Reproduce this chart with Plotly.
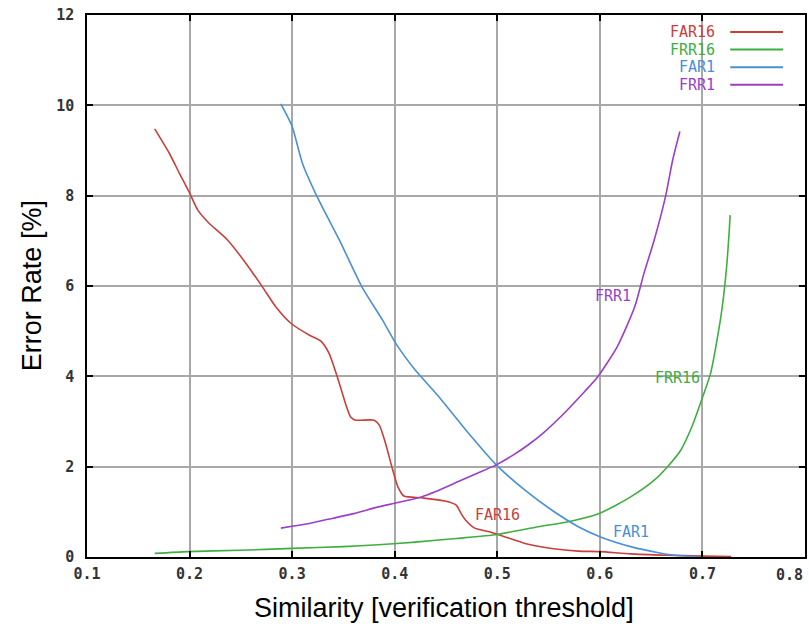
import plotly.graph_objects as go

# ---- data ----
far16_x = [0.166, 0.18, 0.19, 0.20, 0.208, 0.219, 0.237, 0.255, 0.271, 0.284, 0.299, 0.317,
           0.328, 0.336, 0.344, 0.352, 0.357, 0.362, 0.380, 0.385, 0.391, 0.398, 0.403, 0.409,
           0.426, 0.449, 0.460, 0.465, 0.469, 0.478, 0.494, 0.507, 0.527, 0.553, 0.579, 0.600,
           0.630, 0.666, 0.700, 0.728]
far16_y = [9.48, 8.95, 8.5, 8.06, 7.68, 7.39, 7.02, 6.50, 5.98, 5.54, 5.17, 4.91,
           4.78, 4.51, 3.99, 3.40, 3.10, 3.03, 3.03, 2.92, 2.52, 1.93, 1.56, 1.35,
           1.31, 1.24, 1.15, 0.95, 0.82, 0.64, 0.55, 0.45, 0.30, 0.19, 0.13, 0.12,
           0.07, 0.04, 0.02, 0.01]

frr16_x = [0.166, 0.198, 0.249, 0.300, 0.35, 0.384, 0.42, 0.46, 0.50, 0.540, 0.569, 0.600,
           0.630, 0.653, 0.666, 0.679, 0.690, 0.698, 0.708, 0.718, 0.723, 0.726, 0.727]
frr16_y = [0.08, 0.12, 0.15, 0.19, 0.23, 0.27, 0.33, 0.41, 0.50, 0.67, 0.78, 0.97,
           1.33, 1.70, 2.00, 2.37, 2.90, 3.40, 4.07, 5.32, 6.28, 7.17, 7.57]

far1_x = [0.289, 0.300, 0.310, 0.326, 0.346, 0.368, 0.388, 0.401, 0.420, 0.443, 0.472, 0.499,
          0.527, 0.553, 0.579, 0.600, 0.630, 0.656, 0.673, 0.695]
far1_y = [10.03, 9.53, 8.72, 7.90, 7.02, 5.98, 5.25, 4.73, 4.14, 3.55, 2.74, 2.04,
          1.48, 1.04, 0.67, 0.45, 0.23, 0.10, 0.04, 0.01]

frr1_x = [0.289, 0.30, 0.32, 0.34, 0.36, 0.384, 0.40, 0.426, 0.44, 0.462, 0.48, 0.499,
          0.515, 0.530, 0.545, 0.562, 0.585, 0.598, 0.617, 0.634, 0.643, 0.653, 0.664, 0.671, 0.678]
frr1_y = [0.64, 0.68, 0.76, 0.86, 0.96, 1.11, 1.19, 1.33, 1.45, 1.67, 1.85, 2.04,
          2.25, 2.48, 2.75, 3.11, 3.66, 3.99, 4.66, 5.54, 6.28, 7.02, 7.98, 8.79, 9.42]

series_names = ["FAR16", "FRR16", "FAR1", "FRR1"]
series_colors = ["#c8403c", "#3fae3f", "#4a90d6", "#9a3fc8"]

# in-plot label positions (data coords)
label_x = [0.500, 0.676, 0.630, 0.613]
label_y = [0.93, 3.96, 0.55, 5.78]

x_ticks = [0.1, 0.2, 0.3, 0.4, 0.5, 0.6, 0.7, 0.8]
y_ticks = [0, 2, 4, 6, 8, 10, 12]

xs = [far16_x, frr16_x, far1_x, frr1_x]
ys = [far16_y, frr16_y, far1_y, frr1_y]

mono = "DejaVu Sans Mono"
tick_font = dict(family=mono, size=15, color="#333", weight="bold")

fig = go.Figure()
for name, col, x, y in zip(series_names, series_colors, xs, ys):
    fig.add_trace(go.Scatter(x=x, y=y, mode="lines", name=name, line_shape="spline",
                             line=dict(color=col, width=1.6, smoothing=0.6), showlegend=False))

annotations = []
for name, col, lx, ly in zip(series_names, series_colors, label_x, label_y):
    annotations.append(dict(x=lx, y=ly, xref="x", yref="y", text=name, showarrow=False,
                            font=dict(family=mono, size=15, color=col)))

# custom legend (text left, line right)
shapes = []
for i, (name, col) in enumerate(zip(series_names, series_colors)):
    ypix = 32 + i * 17.6
    yp = 1 - (ypix - 15) / 542.0
    annotations.append(dict(x=(719 - 87) / 720.0, y=yp, xref="paper", yref="paper", text=name,
                            showarrow=False, xanchor="right", yanchor="middle",
                            font=dict(family=mono, size=15, color=col)))
    shapes.append(dict(type="line", xref="paper", yref="paper",
                       x0=(732 - 87) / 720.0, x1=(785 - 87) / 720.0, y0=yp, y1=yp,
                       line=dict(color=col, width=2)))

# axis titles
annotations.append(dict(x=(445 - 87) / 720.0, y=-(608 - 557) / 542.0, xref="paper", yref="paper",
                        text="Similarity [verification threshold]", showarrow=False,
                        xanchor="center", yanchor="middle",
                        font=dict(family="Liberation Sans", size=27, color="#000")))
annotations.append(dict(x=-(87 - 32) / 720.0, y=(557 - 286) / 542.0, xref="paper", yref="paper",
                        text="Error Rate [%]", showarrow=False, textangle=-90,
                        xanchor="center", yanchor="middle",
                        font=dict(family="Liberation Sans", size=27, color="#000")))
# last x tick label shifted inside the canvas
annotations.append(dict(x=1.0, y=-(575 - 557) / 542.0, xref="paper", yref="paper",
                        text="0.8", showarrow=False, xanchor="right", yanchor="middle",
                        font=tick_font))

fig.update_layout(
    width=809, height=627,
    margin=dict(l=87, r=2, t=15, b=70),
    paper_bgcolor="white", plot_bgcolor="white",
    annotations=annotations, shapes=shapes,
    xaxis=dict(range=[0.1, 0.8], tickvals=x_ticks,
               ticktext=[f"{v:.1f}" for v in x_ticks[:-1]] + [""],
               showgrid=True, gridcolor="#a8a8a8", gridwidth=1.5,
               showline=True, linecolor="black", linewidth=1.5, mirror="ticks",
               ticks="inside", ticklen=6, tickcolor="black", tickwidth=1.5,
               tickfont=tick_font, zeroline=False, ticklabelstandoff=2),
    yaxis=dict(range=[0, 12], tickvals=y_ticks,
               showgrid=True, gridcolor="#a8a8a8", gridwidth=1.5,
               showline=True, linecolor="black", linewidth=1.5, mirror="ticks",
               ticks="inside", ticklen=6, tickcolor="black", tickwidth=1.5,
               tickfont=tick_font, zeroline=False,
               ticklabelstandoff=8),
)

fig.write_html("out.html")
